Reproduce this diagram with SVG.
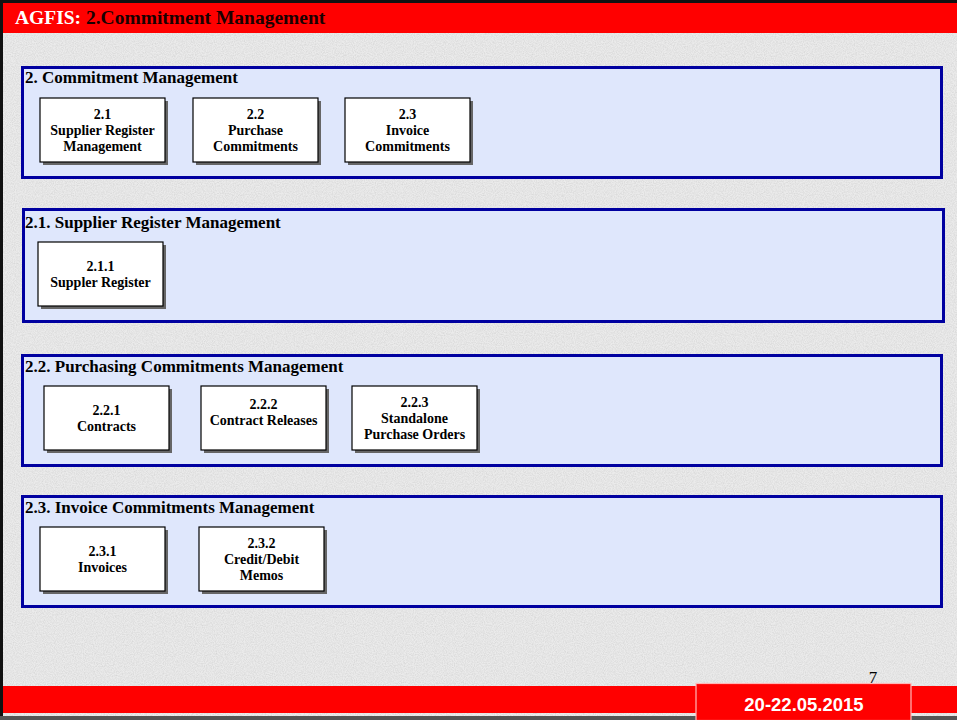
<svg xmlns="http://www.w3.org/2000/svg" width="957" height="720" viewBox="0 0 957 720">
<defs>
<filter id="noise" x="0" y="0" width="100%" height="100%">
<feTurbulence type="fractalNoise" baseFrequency="0.9" numOctaves="2" seed="3" result="n"/>
<feColorMatrix type="matrix" values="0 0 0 0 0.55  0 0 0 0 0.55  0 0 0 0 0.55  0 0 0 1.4 -0.45" result="g"/>
<feComposite in="g" in2="SourceGraphic" operator="in"/>
</filter>
</defs>
<style>
.panel{fill:#dfe7fc;stroke:#0000a0;stroke-width:3}
.ptitle{font-family:"Liberation Serif",serif;font-weight:bold;font-size:17px;fill:#000}
.box{fill:#fff;stroke:#000;stroke-width:1.2}
.shadow{fill:#666}
.bt{font-family:"Liberation Serif",serif;font-weight:bold;font-size:14px;fill:#000;text-anchor:middle}
</style>
<rect x="0" y="0" width="957" height="720" fill="#ebebeb"/>
<rect x="0" y="0" width="957" height="720" fill="#fff" filter="url(#noise)" opacity="0.6"/>
<rect x="0" y="0" width="3" height="720" fill="#111"/>
<rect x="0" y="0" width="957" height="3" fill="#111"/>
<rect x="0" y="716" width="957" height="4" fill="#555"/>
<g id="header">
<rect x="3" y="3" width="954" height="30" fill="#ff0000"/>
<text x="15" y="24" font-family="Liberation Serif,serif" font-weight="bold" font-size="19.5" fill="#fff">AGFIS: <tspan fill="#1a0000">2.Commitment Management</tspan></text>
</g>

<g id="panel-2">
<rect class="panel" x="22.5" y="67.5" width="919" height="110"/>
<text class="ptitle" x="25" y="83">2. Commitment Management</text>
</g>
<g id="node-2-1">
<rect class="shadow" x="43" y="101" width="125" height="64"/>
<rect class="box" x="40" y="98" width="125" height="64"/>
<text class="bt" x="102.5" y="119">2.1</text>
<text class="bt" x="102.5" y="135">Supplier Register</text>
<text class="bt" x="102.5" y="151">Management</text>
</g>
<g id="node-2-2">
<rect class="shadow" x="196" y="101" width="125" height="64"/>
<rect class="box" x="193" y="98" width="125" height="64"/>
<text class="bt" x="255.5" y="119">2.2</text>
<text class="bt" x="255.5" y="135">Purchase</text>
<text class="bt" x="255.5" y="151">Commitments</text>
</g>
<g id="node-2-3">
<rect class="shadow" x="348" y="101" width="125" height="64"/>
<rect class="box" x="345" y="98" width="125" height="64"/>
<text class="bt" x="407.5" y="119">2.3</text>
<text class="bt" x="407.5" y="135">Invoice</text>
<text class="bt" x="407.5" y="151">Commitments</text>
</g>

<g id="panel-2-1">
<rect class="panel" x="23.5" y="209.5" width="920" height="112"/>
<text class="ptitle" x="25" y="228">2.1. Supplier Register Management</text>
</g>
<g id="node-2-1-1">
<rect class="shadow" x="41" y="245" width="125" height="64"/>
<rect class="box" x="38" y="242" width="125" height="64"/>
<text class="bt" x="100.5" y="271">2.1.1</text>
<text class="bt" x="100.5" y="287">Suppler Register</text>
</g>

<g id="panel-2-2">
<rect class="panel" x="22.5" y="355.5" width="919" height="110"/>
<text class="ptitle" x="25" y="372">2.2. Purchasing Commitments Management</text>
</g>
<g id="node-2-2-1">
<rect class="shadow" x="47" y="389" width="125" height="64"/>
<rect class="box" x="44" y="386" width="125" height="64"/>
<text class="bt" x="106.5" y="415">2.2.1</text>
<text class="bt" x="106.5" y="431">Contracts</text>
</g>
<g id="node-2-2-2">
<rect class="shadow" x="204" y="389" width="125" height="64"/>
<rect class="box" x="201" y="386" width="125" height="64"/>
<text class="bt" x="263.5" y="409">2.2.2</text>
<text class="bt" x="263.5" y="425">Contract Releases</text>
</g>
<g id="node-2-2-3">
<rect class="shadow" x="355" y="389" width="125" height="64"/>
<rect class="box" x="352" y="386" width="125" height="64"/>
<text class="bt" x="414.5" y="407">2.2.3</text>
<text class="bt" x="414.5" y="423">Standalone</text>
<text class="bt" x="414.5" y="439">Purchase Orders</text>
</g>

<g id="panel-2-3">
<rect class="panel" x="22.5" y="496.5" width="919" height="110"/>
<text class="ptitle" x="25" y="513">2.3. Invoice Commitments Management</text>
</g>
<g id="node-2-3-1">
<rect class="shadow" x="43" y="530" width="125" height="64"/>
<rect class="box" x="40" y="527" width="125" height="64"/>
<text class="bt" x="102.5" y="556">2.3.1</text>
<text class="bt" x="102.5" y="572">Invoices</text>
</g>
<g id="node-2-3-2">
<rect class="shadow" x="202" y="530" width="125" height="64"/>
<rect class="box" x="199" y="527" width="125" height="64"/>
<text class="bt" x="261.5" y="548">2.3.2</text>
<text class="bt" x="261.5" y="564">Credit/Debit</text>
<text class="bt" x="261.5" y="580">Memos</text>
</g>

<g id="connectors"></g>

<g id="footer">
<rect x="3" y="686" width="954" height="27" fill="#ff0000"/>
<rect x="696" y="683.5" width="215" height="37" fill="#ff0000" stroke="#ffb8b8" stroke-width="1.2"/>
<text x="804" y="711" font-family="Liberation Sans,Arial,sans-serif" font-weight="bold" font-size="18.5" fill="#fff" text-anchor="middle">20-22.05.2015</text>
<text x="873" y="683" font-family="Liberation Serif,serif" font-size="17" fill="#000" text-anchor="middle">7</text>
</g>
</svg>
